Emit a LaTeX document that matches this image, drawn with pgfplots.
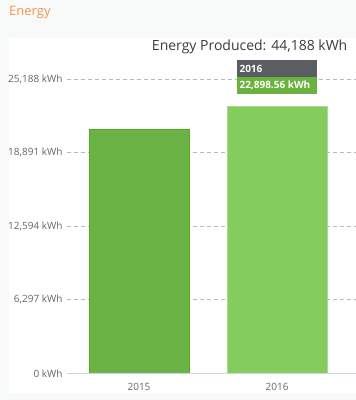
\documentclass[border=0pt]{standalone}
\usepackage{pgfplots}
\pgfplotsset{compat=1.18}
\usepackage{fontspec}
\setmainfont{Open Sans}
\definecolor{bgout}{HTML}{F8F9F9}
\definecolor{orangetitle}{HTML}{F4954E}
\definecolor{titlegray}{HTML}{3C3C3C}
\definecolor{labgray}{HTML}{666666}
\definecolor{gridc}{HTML}{A9BCCB}
\definecolor{axisc}{HTML}{CCD6EB}
\definecolor{barA}{HTML}{6AB344}
\definecolor{barAedge}{HTML}{58A81E}
\definecolor{barB}{HTML}{84CC5C}
\definecolor{barBedge}{HTML}{A8DC8C}
\definecolor{tipdark}{HTML}{5A5E62}
\definecolor{tipgreen}{HTML}{6BB13D}
\begin{document}
\begin{tikzpicture}
\useasboundingbox (0,0) rectangle (356bp,-400bp);
\fill[bgout] (0,0) rectangle (356bp,-400bp);
\fill[white] (8.5bp,-38bp) rectangle (356bp,-393bp);
\node[anchor=base west, inner sep=0pt, text=orangetitle, font=\fontsize{13bp}{15bp}\selectfont] at (9bp,-15.5bp) {Energy};
\node[anchor=base east, inner sep=0pt, text=titlegray, font=\fontsize{14bp}{17bp}\selectfont] at (347.5bp,-50bp) {Energy Produced: 44,188 kWh};
\begin{axis}[
  at={(67bp,-373.3bp)}, anchor=south west,
  scale only axis, width=289bp, height=294bp,
  xmin=-0.5217, xmax=1.572, ymin=0, ymax=25188,
  scaled y ticks=false,
  ybar, bar width=100bp, bar shift=0pt,
  axis line style={draw=none},
  xtick={0,1}, xticklabels={2015,2016},
  ytick={0,6297,12594,18891,25188},
  yticklabels={{0 kWh},{6,297 kWh},{12,594 kWh},{18,891 kWh},{25,188 kWh}},
  major tick length=0pt,
  tick style={draw=none},
  ymajorgrids, grid style={gridc, dash pattern=on 4bp off 3bp, line width=0.9bp},
  xticklabel style={text=labgray, font=\fontsize{10bp}{12bp}\selectfont, yshift=-6bp},
  yticklabel style={text=labgray, font=\fontsize{10bp}{12bp}\selectfont, xshift=-1bp},
  clip=false,
]
\addplot[fill=barA, draw=barAedge, line width=1bp] coordinates {(0,20900)};
\addplot[fill=barB, draw=barBedge, line width=1bp] coordinates {(1,22898.56)};
\draw[axisc, line width=1bp] (rel axis cs:0,0) -- (rel axis cs:1,0);
\node[anchor=south, fill=tipgreen, text=white, minimum width=80bp, minimum height=16.5bp, inner sep=0pt, font=\bfseries\fontsize{10bp}{12bp}\selectfont, yshift=12bp] (g) at (axis cs:1,22898.56) {\makebox[75bp][l]{22,898.56 kWh}};
\node[anchor=south, fill=tipdark, text=white, minimum width=80bp, minimum height=16.5bp, inner sep=0pt, font=\bfseries\fontsize{10bp}{12bp}\selectfont] at (g.north) {\makebox[75bp][l]{2016}};
\end{axis}
\end{tikzpicture}
\end{document}
